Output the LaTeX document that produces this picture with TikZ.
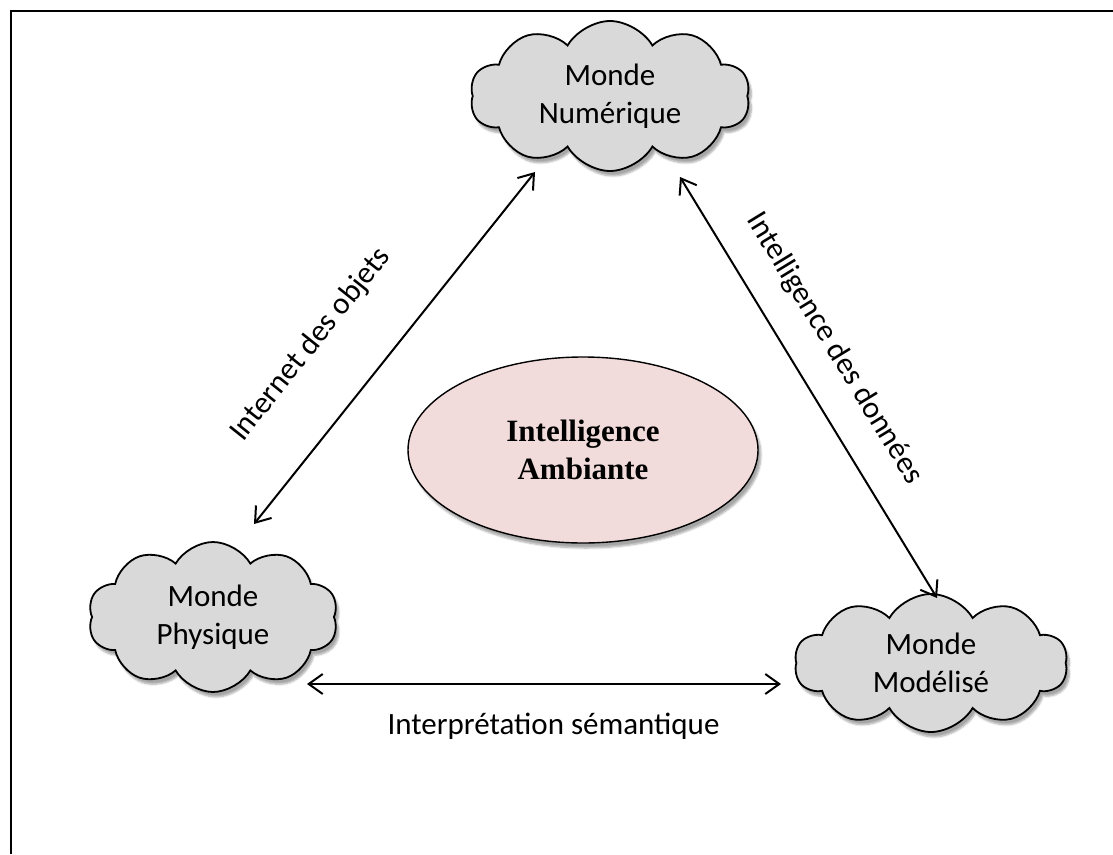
\documentclass[tikz,border=0pt]{standalone}
\usepackage{fontspec}
\setmainfont{Carlito}
\newfontfamily\timesb{Liberation Serif}
\usetikzlibrary{shapes.symbols,shapes.geometric,arrows.meta,shadows.blur}
\definecolor{cloudgray}{RGB}{217,217,217}
\definecolor{ambpink}{RGB}{242,220,219}
\begin{document}
\begin{tikzpicture}[x=1pt,y=-1pt,
  softshadow/.style={blur shadow={shadow xshift=3pt, shadow yshift=-5pt, shadow blur steps=6, shadow opacity=35}},
  cloudbox/.style={cloud, cloud puffs=10, cloud puff arc=120, cloud ignores aspect, draw=black, line width=1.8pt,
    fill=cloudgray, align=center, inner sep=0pt, font=\fontsize{31}{38}\selectfont, softshadow},
  ambbox/.style={ellipse, draw=black, line width=1.4pt, fill=ambpink, align=center,
    font=\timesb\bfseries\fontsize{31}{38}\selectfont, minimum width=350pt, minimum height=186pt, softshadow},
  arr/.style={line width=2pt, {Straight Barb[length=14pt,width=20pt]}-{Straight Barb[length=14pt,width=20pt]}},
  lab/.style={font=\fontsize{31}{38}\selectfont, inner sep=0pt, sloped}
]
\useasboundingbox (0,0) rectangle (1113,854);
% frame (top and left sides)
\draw[line width=2.5pt] (11,854) -- (11,11) -- (1113,11);

\node[cloudbox, minimum width=280pt, minimum height=150pt] (num) at (610,96) {Monde\\Numérique};
\node[cloudbox, minimum width=250pt, minimum height=150pt] (phy) at (213,617) {Monde\\Physique};
\node[cloudbox, minimum width=273pt, minimum height=138pt] (mod) at (931,663) {Monde\\Modélisé};
\node[ambbox] (amb) at (583,450) {Intelligence\\Ambiante};

\coordinate (iA) at (254,524);
\coordinate (iB) at (535,172);
\coordinate (dA) at (680,177);
\coordinate (dB) at (937,598);
\coordinate (sA) at (307,684);
\coordinate (sB) at (781,684);

\draw[arr] (iA) -- node[lab, pos=0.39, above=53pt] (lio) {Internet des objets} (iB);
\draw[arr] (dA) -- node[lab, pos=0.46, above=28pt] (lid) {Intelligence des données} (dB);
\draw[arr] (sA) -- node[lab, pos=0.52, below=28pt] (lis) {Interprétation sémantique} (sB);
\end{tikzpicture}
\end{document}
